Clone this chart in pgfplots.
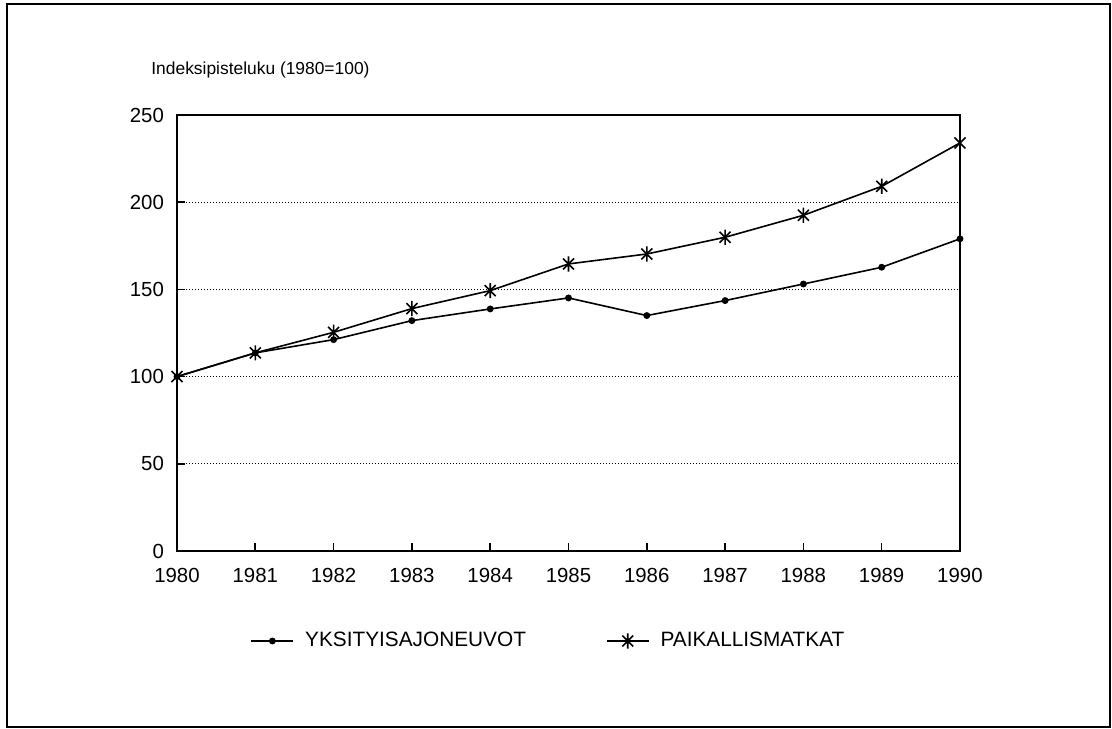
\documentclass[border=0pt]{standalone}
\usepackage{fontspec}
\setmainfont{Liberation Sans}
\usepackage{pgfplots}
\pgfplotsset{compat=1.18}
\pgfdeclareplotmark{ast6}{%
  \pgfpathmoveto{\pgfqpoint{0pt}{-\pgfplotmarksize}}%
  \pgfpathlineto{\pgfqpoint{0pt}{\pgfplotmarksize}}%
  \pgfpathmoveto{\pgfqpoint{-0.72\pgfplotmarksize}{-0.72\pgfplotmarksize}}%
  \pgfpathlineto{\pgfqpoint{0.72\pgfplotmarksize}{0.72\pgfplotmarksize}}%
  \pgfpathmoveto{\pgfqpoint{-0.72\pgfplotmarksize}{0.72\pgfplotmarksize}}%
  \pgfpathlineto{\pgfqpoint{0.72\pgfplotmarksize}{-0.72\pgfplotmarksize}}%
  \pgfusepathqstroke}
\pgfplotstableread{
year a b
1980 100.0 100.0
1981 113.6 113.6
1982 121.2 125.4
1983 132.1 139.0
1984 138.8 149.3
1985 145.1 164.6
1986 135.0 170.3
1987 143.6 179.9
1988 153.1 192.5
1989 162.7 209.1
1990 179.0 234.0
}\datatable
\begin{document}
\begin{tikzpicture}
\useasboundingbox (0pt,0pt) rectangle (556pt,364pt);
\draw[line width=1pt] (3.5pt,0.5pt) rectangle (555pt,362pt);
\node[anchor=west,font=\fontsize{8.7}{10}\selectfont,inner sep=0pt] at (75.5pt,329pt) {Indeksipisteluku (1980=100)};
\begin{axis}[
  at={(88.5pt,88.5pt)}, anchor=south west,
  scale only axis, width=391.5pt, height=218pt,
  xmin=1980, xmax=1990, ymin=0, ymax=250,
  xtick={1980,...,1990}, ytick={0,50,...,250},
  xtick pos=bottom, ytick pos=left,
  tick align=inside, major tick length=4pt,
  tick style={black, line width=0.8pt},
  axis line style={line width=1pt},
  ymajorgrids,
  major grid style={black, line width=0.5pt, dash pattern=on 0.5pt off 1pt},
  /pgf/number format/assume math mode=true,
  /pgf/number format/1000 sep={},
  tick label style={font=\fontsize{10.2}{12}\selectfont},
  xticklabel style={yshift=-5pt},
  yticklabel style={xshift=-3pt},
  legend columns=2,
  legend style={draw=none, fill=none, at={(0.4757,-0.2064)}, anchor=center,
    font=\fontsize{10.4}{12}\selectfont,
    /tikz/every odd column/.append style={column sep=3.5pt},
    /tikz/every even column/.append style={column sep=38pt}},
  legend cell align=left,
  legend image code/.code={%
    \draw[#1, mark repeat=2, mark phase=2] plot coordinates {(0pt,0pt) (10.5pt,0pt) (21pt,0pt)};},
]
\addplot[black, line width=0.8pt, mark=*, mark size=1.3pt] table[x=year,y=a] {\datatable};
\addlegendentry{YKSITYISAJONEUVOT}
\addplot[black, line width=0.8pt, mark=ast6, mark size=3.8pt] table[x=year,y=b] {\datatable};
\addlegendentry{PAIKALLISMATKAT}
\end{axis}
\end{tikzpicture}
\end{document}
